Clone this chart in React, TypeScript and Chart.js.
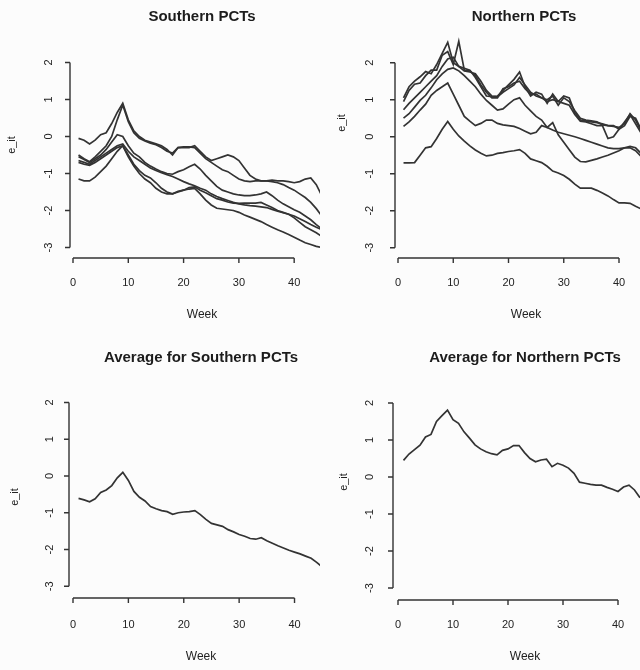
import React, { useEffect, useRef } from "react";
import { Chart, registerables } from "chart.js";

Chart.register(...registerables);

// ---------------- DATA ----------------
const WEEKS_S = [1,2,3,4,5,6,7,8,9,10,11,12,13,14,15,16,17,18,19,20,21,22,23,24,25,26,27,28,29,30,31,32,33,34,35,36,37,38,39,40,41,42,43,44,45];
const WEEKS_N = [1,2,3,4,5,6,7,8,9,10,11,12,13,14,15,16,17,18,19,20,21,22,23,24,25,26,27,28,29,30,31,32,33,34,35,36,37,38,39,40,41,42,43,44];

const X_TICKS = [0, 10, 20, 30, 40];
const Y_TICKS = [-3, -2, -1, 0, 1, 2];

const TITLE_SOUTH = "Southern PCTs";
const TITLE_NORTH = "Northern PCTs";
const TITLE_AVG_SOUTH = "Average for Southern PCTs";
const TITLE_AVG_NORTH = "Average for Northern PCTs";
const X_LABEL = "Week";
const Y_LABEL = "e_it";

// Southern PCTs
const S_A = [-0.05,-0.1,-0.2,-0.1,0.05,0.1,0.35,0.65,0.9,0.45,0.15,0.0,-0.1,-0.15,-0.2,-0.25,-0.35,-0.5,-0.3,-0.3,-0.3,-0.25,-0.4,-0.55,-0.65,-0.6,-0.55,-0.5,-0.55,-0.65,-0.85,-1.05,-1.15,-1.2,-1.2,-1.18,-1.2,-1.2,-1.22,-1.25,-1.22,-1.15,-1.12,-1.3,-1.6];
const S_B = [-0.5,-0.6,-0.68,-0.55,-0.4,-0.25,0.0,0.45,0.85,0.4,0.1,-0.05,-0.12,-0.18,-0.22,-0.3,-0.4,-0.45,-0.3,-0.28,-0.28,-0.3,-0.45,-0.6,-0.7,-0.8,-0.9,-0.95,-1.05,-1.15,-1.2,-1.22,-1.2,-1.2,-1.2,-1.22,-1.25,-1.3,-1.38,-1.45,-1.55,-1.65,-1.78,-1.95,-2.15];
const S_C = [-0.55,-0.62,-0.7,-0.6,-0.5,-0.35,-0.15,0.05,0.0,-0.25,-0.45,-0.55,-0.7,-0.8,-0.88,-0.95,-1.0,-1.02,-0.95,-0.9,-0.82,-0.75,-0.88,-1.05,-1.2,-1.35,-1.45,-1.5,-1.55,-1.58,-1.6,-1.6,-1.58,-1.55,-1.5,-1.6,-1.72,-1.82,-1.9,-1.98,-2.05,-2.15,-2.25,-2.38,-2.5];
const S_D = [-0.65,-0.7,-0.75,-0.65,-0.55,-0.45,-0.35,-0.25,-0.2,-0.4,-0.55,-0.65,-0.75,-0.85,-0.92,-0.98,-1.03,-1.08,-1.15,-1.22,-1.28,-1.33,-1.4,-1.45,-1.55,-1.62,-1.68,-1.73,-1.78,-1.82,-1.85,-1.87,-1.88,-1.9,-1.92,-1.97,-2.02,-2.06,-2.1,-2.15,-2.22,-2.3,-2.38,-2.45,-2.52];
const S_E = [-1.15,-1.2,-1.2,-1.1,-0.95,-0.8,-0.6,-0.4,-0.25,-0.55,-0.8,-1.0,-1.15,-1.25,-1.4,-1.5,-1.55,-1.55,-1.48,-1.45,-1.42,-1.4,-1.55,-1.72,-1.85,-1.94,-1.96,-1.98,-2.0,-2.05,-2.12,-2.18,-2.24,-2.3,-2.38,-2.45,-2.52,-2.58,-2.65,-2.72,-2.8,-2.87,-2.92,-2.97,-3.0];
const S_F = [-0.7,-0.75,-0.78,-0.7,-0.6,-0.5,-0.4,-0.3,-0.25,-0.5,-0.75,-0.92,-1.05,-1.12,-1.25,-1.4,-1.5,-1.55,-1.5,-1.45,-1.38,-1.36,-1.45,-1.52,-1.6,-1.68,-1.72,-1.77,-1.8,-1.81,-1.8,-1.8,-1.8,-1.78,-1.85,-1.92,-2.0,-2.05,-2.1,-2.2,-2.32,-2.44,-2.52,-2.6,-2.7];

// Northern PCTs
const N_T1 = [1.05,1.35,1.5,1.62,1.76,1.7,1.95,2.25,2.55,2.0,1.9,1.85,1.8,1.6,1.35,1.1,1.08,1.1,1.25,1.4,1.55,1.75,1.35,1.1,1.2,1.15,0.9,1.15,0.95,1.1,1.05,0.65,0.45,0.42,0.4,0.38,0.35,0.3,0.28,0.25,0.35,0.62,0.45,0.15];
const N_T2 = [0.95,1.25,1.42,1.45,1.65,1.8,1.8,2.2,2.3,1.95,2.58,1.8,1.78,1.65,1.4,1.2,1.05,1.05,1.3,1.35,1.45,1.5,1.3,1.15,1.15,1.05,1.0,1.1,0.85,1.05,0.95,0.7,0.5,0.45,0.43,0.4,0.32,0.3,0.3,0.2,0.3,0.55,0.5,0.2];
const N_T3 = [0.73,0.9,1.05,1.2,1.35,1.5,1.65,1.9,2.1,2.15,1.9,1.78,1.75,1.7,1.5,1.25,1.1,1.08,1.2,1.3,1.4,1.6,1.4,1.2,1.1,1.05,0.95,1.0,0.95,0.9,0.85,0.6,0.42,0.4,0.35,0.3,0.3,-0.05,0.0,0.2,0.4,0.6,0.35,0.1];
const N_M1 = [0.5,0.62,0.8,0.98,1.12,1.32,1.54,1.7,1.82,1.86,1.78,1.65,1.5,1.35,1.15,0.98,0.85,0.72,0.75,0.88,1.0,1.05,0.85,0.7,0.55,0.45,0.25,0.38,0.05,-0.15,-0.35,-0.55,-0.67,-0.68,-0.64,-0.6,-0.55,-0.5,-0.44,-0.38,-0.3,-0.26,-0.3,-0.45];
const N_M2 = [0.28,0.4,0.55,0.72,0.88,1.12,1.25,1.35,1.45,1.15,0.85,0.55,0.42,0.3,0.36,0.45,0.45,0.36,0.32,0.3,0.28,0.22,0.15,0.08,0.12,0.3,0.25,0.18,0.12,0.08,0.04,0.0,-0.05,-0.1,-0.15,-0.2,-0.25,-0.3,-0.32,-0.32,-0.3,-0.3,-0.38,-0.53];
const N_LOW = [-0.71,-0.71,-0.7,-0.5,-0.3,-0.27,-0.05,0.2,0.41,0.2,0.02,-0.12,-0.25,-0.36,-0.45,-0.52,-0.5,-0.45,-0.43,-0.4,-0.38,-0.35,-0.45,-0.6,-0.65,-0.7,-0.8,-0.93,-0.98,-1.05,-1.15,-1.28,-1.39,-1.39,-1.39,-1.45,-1.52,-1.6,-1.7,-1.79,-1.79,-1.8,-1.88,-1.95];

// Averages
const S_AVG = [-0.61,-0.65,-0.7,-0.62,-0.45,-0.38,-0.26,-0.05,0.1,-0.12,-0.42,-0.58,-0.68,-0.83,-0.89,-0.94,-0.97,-1.04,-1.0,-0.98,-0.97,-0.94,-1.05,-1.18,-1.29,-1.33,-1.37,-1.46,-1.52,-1.59,-1.64,-1.7,-1.72,-1.68,-1.76,-1.83,-1.9,-1.96,-2.02,-2.07,-2.12,-2.18,-2.24,-2.35,-2.48];
const N_AVG = [0.45,0.62,0.74,0.86,1.08,1.15,1.5,1.66,1.81,1.55,1.45,1.22,1.05,0.87,0.76,0.68,0.63,0.6,0.72,0.76,0.85,0.85,0.66,0.5,0.41,0.46,0.48,0.28,0.37,0.32,0.24,0.1,-0.14,-0.17,-0.2,-0.22,-0.22,-0.28,-0.33,-0.39,-0.27,-0.22,-0.35,-0.56];

// ---------------- STYLE / LAYOUT ----------------
const FONT = '"Liberation Sans", Arial, Helvetica, sans-serif';
const LINE_COLOR = "#333333";
const AXIS_COLOR = "#333333";
const TEXT_COLOR = "#222222";
const BG = "#fcfcfc";

type Panel = {
  key: string;
  left: number; top: number; width: number; height: number;
  title: string;
  weeks: number[];
  series: number[][];
  pad: { left: number; right: number; top: number; bottom: number };
  xMax: number; yMin: number; yMax: number;
  yAxisX: number; xAxisY: number;
  yTickLabelX: number; xTickLabelY: number;
  weekX: number; weekY: number;
  ylabX: number; ylabY: number;
  titleX: number; titleY: number;
};

const PANELS: Panel[] = [
  {
    key: "s", left: 0, top: 0, width: 320, height: 330, title: TITLE_SOUTH,
    weeks: WEEKS_S, series: [S_A, S_B, S_C, S_D, S_E, S_F],
    pad: { left: 73, right: 0, top: 36.6, bottom: 75.1 },
    xMax: 44.67, yMin: -3.2, yMax: 2.7,
    yAxisX: 70, xAxisY: 258, yTickLabelX: 49, xTickLabelY: 283,
    weekX: 202, weekY: 315, ylabX: 12, ylabY: 145, titleX: 202, titleY: 17,
  },
  {
    key: "n", left: 320, top: 0, width: 320, height: 330, title: TITLE_NORTH,
    weeks: WEEKS_N, series: [N_T1, N_T2, N_T3, N_M1, N_M2, N_LOW],
    pad: { left: 78, right: 0, top: 36.8, bottom: 74.9 },
    xMax: 43.8, yMin: -3.2, yMax: 2.7,
    yAxisX: 75, xAxisY: 258, yTickLabelX: 50, xTickLabelY: 283,
    weekX: 206, weekY: 315, ylabX: 22, ylabY: 123, titleX: 204, titleY: 17,
  },
  {
    key: "sa", left: 0, top: 330, width: 320, height: 340, title: TITLE_AVG_SOUTH,
    weeks: WEEKS_S, series: [S_AVG],
    pad: { left: 73, right: 0, top: 46.8, bottom: 76.4 },
    xMax: 44.6, yMin: -3.2, yMax: 2.7,
    yAxisX: 69, xAxisY: 268, yTickLabelX: 50, xTickLabelY: 295,
    weekX: 201, weekY: 327, ylabX: 15, ylabY: 167, titleX: 201, titleY: 28,
  },
  {
    key: "na", left: 320, top: 330, width: 320, height: 340, title: TITLE_AVG_NORTH,
    weeks: WEEKS_N, series: [N_AVG],
    pad: { left: 78, right: 0, top: 47.1, bottom: 74.6 },
    xMax: 44.0, yMin: -3.2, yMax: 2.7,
    yAxisX: 73, xAxisY: 270, yTickLabelX: 50, xTickLabelY: 295,
    weekX: 205, weekY: 327, ylabX: 24, ylabY: 152, titleX: 205, titleY: 28,
  },
];

function makeAxesPlugin(p: Panel) {
  return {
    id: "rStyleAxes",
    afterDraw(chart: any) {
      const ctx: CanvasRenderingContext2D = chart.ctx;
      const xs = chart.scales.x;
      const ys = chart.scales.y;
      ctx.save();
      ctx.strokeStyle = AXIS_COLOR;
      ctx.fillStyle = TEXT_COLOR;
      ctx.lineWidth = 1.4;

      // y axis
      const yTop = ys.getPixelForValue(Y_TICKS[Y_TICKS.length - 1]);
      const yBot = ys.getPixelForValue(Y_TICKS[0]);
      ctx.beginPath();
      ctx.moveTo(p.yAxisX, yTop);
      ctx.lineTo(p.yAxisX, yBot);
      for (const t of Y_TICKS) {
        const py = ys.getPixelForValue(t);
        ctx.moveTo(p.yAxisX, py);
        ctx.lineTo(p.yAxisX - 5, py);
      }
      ctx.stroke();
      ctx.font = `11px ${FONT}`;
      ctx.textAlign = "center";
      ctx.textBaseline = "middle";
      for (const t of Y_TICKS) {
        const py = ys.getPixelForValue(t);
        ctx.save();
        ctx.translate(p.yTickLabelX, py);
        ctx.rotate(-Math.PI / 2);
        ctx.fillText(String(t), 0, 0);
        ctx.restore();
      }

      // x axis
      const xL = xs.getPixelForValue(X_TICKS[0]);
      const xR = xs.getPixelForValue(X_TICKS[X_TICKS.length - 1]);
      ctx.beginPath();
      ctx.moveTo(xL, p.xAxisY);
      ctx.lineTo(xR, p.xAxisY);
      for (const t of X_TICKS) {
        const px = xs.getPixelForValue(t);
        ctx.moveTo(px, p.xAxisY);
        ctx.lineTo(px, p.xAxisY + 5);
      }
      ctx.stroke();
      for (const t of X_TICKS) {
        const px = xs.getPixelForValue(t);
        ctx.fillText(String(t), px, p.xTickLabelY);
      }

      // axis titles
      ctx.font = `12px ${FONT}`;
      ctx.fillText(X_LABEL, p.weekX, p.weekY);
      ctx.save();
      ctx.translate(p.ylabX, p.ylabY);
      ctx.rotate(-Math.PI / 2);
      ctx.font = `11px ${FONT}`;
      ctx.fillText(Y_LABEL, 0, 0);
      ctx.restore();

      // panel title
      ctx.font = `bold 15px ${FONT}`;
      ctx.fillStyle = "#1c1c1c";
      ctx.fillText(p.title, p.titleX, p.titleY);
      ctx.restore();
    },
  };
}

function PanelChart({ p }: { p: Panel }) {
  const ref = useRef<HTMLCanvasElement | null>(null);
  useEffect(() => {
    if (!ref.current) return;
    const datasets = p.series.map((vals, i) => ({
      label: `${p.key}-${i}`,
      data: p.weeks.map((w, j) => ({ x: w, y: vals[j] })),
      borderColor: LINE_COLOR,
      borderWidth: 1.7,
      pointRadius: 0,
      tension: 0,
      fill: false,
    }));
    const chart = new Chart(ref.current, {
      type: "line",
      data: { datasets },
      options: {
        animation: false,
        responsive: false,
        events: [],
        layout: { padding: p.pad },
        plugins: { legend: { display: false }, tooltip: { enabled: false }, title: { display: false } },
        scales: {
          x: { type: "linear", min: 0, max: p.xMax, display: false },
          y: { type: "linear", min: p.yMin, max: p.yMax, display: false },
        },
      },
      plugins: [makeAxesPlugin(p)],
    } as any);
    return () => chart.destroy();
  }, [p]);
  return (
    <canvas
      ref={ref}
      width={p.width}
      height={p.height}
      style={{ position: "absolute", left: p.left, top: p.top, width: p.width, height: p.height, display: "block" }}
    />
  );
}

export default function App() {
  return (
    <div style={{ position: "absolute", left: 0, top: 0, width: 640, height: 670, background: BG, overflow: "hidden" }}>
      {PANELS.map((p) => (
        <PanelChart key={p.key} p={p} />
      ))}
    </div>
  );
}
